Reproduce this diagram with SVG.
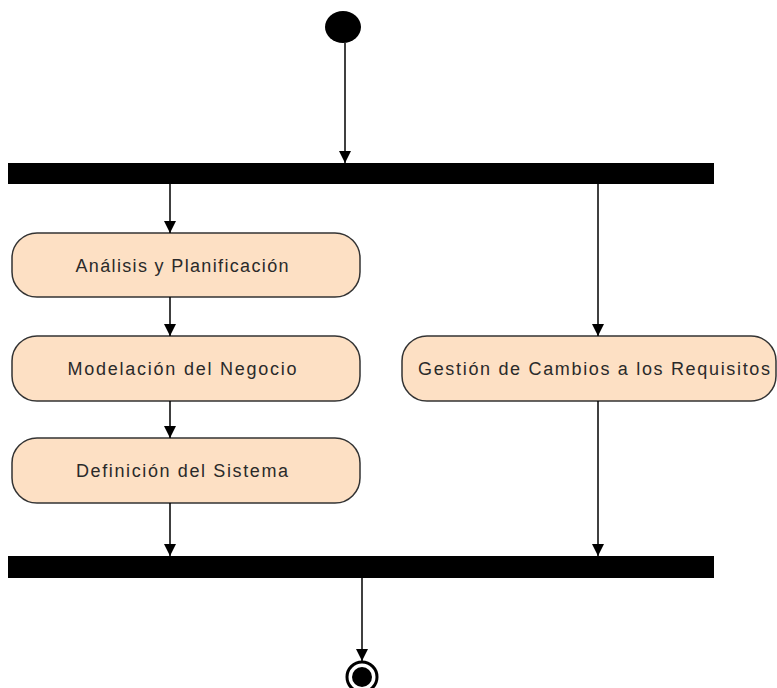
<svg xmlns="http://www.w3.org/2000/svg" width="777" height="688" viewBox="0 0 777 688">
  <defs>
    <marker id="arrow" viewBox="0 0 12 12" refX="12" refY="6" markerWidth="12" markerHeight="12" markerUnits="userSpaceOnUse" orient="auto">
      <path d="M0,0 L12,6 L0,12 Z" fill="#000"/>
    </marker>
    <style>
      .bar { fill: #000; }
      .action rect { fill: #fde0c4; stroke: #333; stroke-width: 1.5; }
      .action text { font-family: "Liberation Sans", Arial, sans-serif; font-size: 18px; fill: #2a2a2a; text-anchor: middle; }
      .flow { stroke: #000; stroke-width: 1.5; fill: none; marker-end: url(#arrow); }
    </style>
  </defs>
  <rect width="777" height="688" fill="#fff"/>

  <!-- initial node -->
  <g id="start">
    <ellipse cx="343" cy="27" rx="18" ry="16" fill="#000"/>
  </g>

  <!-- fork and join bars -->
  <g id="fork"><rect class="bar" x="8" y="163" width="706" height="21"/></g>
  <g id="join"><rect class="bar" x="8" y="556" width="706" height="22"/></g>

  <!-- actions -->
  <g id="analisis" class="action">
    <rect x="12" y="233" width="348" height="64" rx="25" ry="25"/>
    <text x="182" y="272" textLength="213" lengthAdjust="spacing">Análisis y Planificación</text>
  </g>
  <g id="modelacion" class="action">
    <rect x="12" y="336" width="348" height="65" rx="25" ry="25"/>
    <text x="182" y="375" textLength="229" lengthAdjust="spacing">Modelación del Negocio</text>
  </g>
  <g id="definicion" class="action">
    <rect x="12" y="438" width="348" height="65" rx="25" ry="25"/>
    <text x="182" y="477" textLength="212" lengthAdjust="spacing">Definición del Sistema</text>
  </g>
  <g id="gestion" class="action">
    <rect x="402" y="336" width="374" height="65" rx="25" ry="25"/>
    <text x="594" y="375" textLength="352" lengthAdjust="spacing">Gestión de Cambios a los Requisitos</text>
  </g>

  <!-- final node -->
  <g id="end">
    <circle cx="362" cy="677" r="15" fill="#fff" stroke="#000" stroke-width="3"/>
    <circle cx="362" cy="677" r="10" fill="#000"/>
  </g>

  <!-- control flows -->
  <g id="connectors">
    <line class="flow" x1="345" y1="43" x2="345" y2="163"/>
    <line class="flow" x1="170" y1="184" x2="170" y2="233"/>
    <line class="flow" x1="170" y1="297" x2="170" y2="336"/>
    <line class="flow" x1="170" y1="401" x2="170" y2="438"/>
    <line class="flow" x1="170" y1="503" x2="170" y2="556"/>
    <line class="flow" x1="598" y1="184" x2="598" y2="336"/>
    <line class="flow" x1="598" y1="401" x2="598" y2="556"/>
    <line class="flow" x1="362" y1="578" x2="362" y2="661"/>
  </g>
</svg>
